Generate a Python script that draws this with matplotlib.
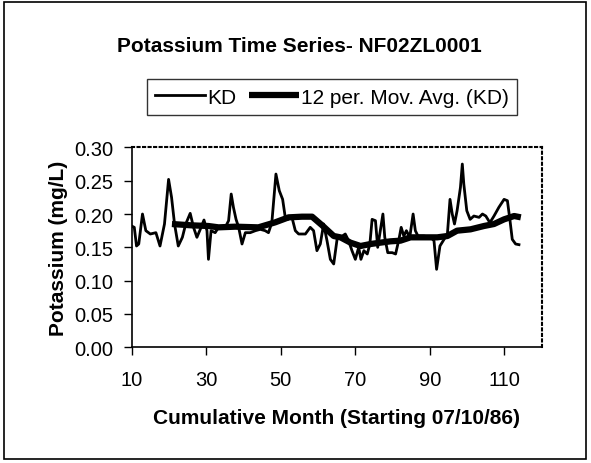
import numpy as np
import matplotlib.pyplot as plt
from matplotlib.patches import Rectangle

plt.rcParams['font.family'] = ['Liberation Sans', 'DejaVu Sans']

# KD samples (cumulative month, mg/L)
kd_month = [10.0, 10.7, 11.3, 11.9, 12.9, 13.8, 15.0, 16.5, 17.6, 18.8,
            19.9, 20.7, 21.5, 22.5, 23.6, 24.5, 25.7, 26.6, 27.5, 28.4,
            29.4, 30.2, 30.6, 31.3, 32.4, 33.3, 35.1, 36.0, 36.7, 37.3,
            38.0, 38.7, 39.6, 40.5, 41.8, 43.2, 44.5, 45.8, 46.7, 47.6,
            48.7, 49.6, 50.5, 51.2, 51.9, 53.0, 53.9, 54.8, 56.6, 57.9,
            58.8, 59.7, 60.6, 61.5, 62.4, 63.3, 64.2, 65.1, 66.0, 67.3,
            68.2, 69.1, 70.0, 70.9, 71.5, 72.3, 73.2, 73.9, 74.5, 75.4,
            76.0, 76.7, 77.4, 77.9, 78.7, 79.9, 80.8, 81.7, 82.3, 83.0,
            83.7, 84.6, 85.5, 86.1, 86.8, 88.4, 90.2, 91.1, 91.8, 92.7,
            93.8, 94.7, 95.4, 96.0, 96.6, 97.3, 98.2, 98.7, 99.1, 99.9,
            100.8, 101.8, 103.2, 104.1, 105.0, 106.1, 107.2, 108.5, 109.9, 110.8,
            111.5, 112.1, 113.0, 113.9]
kd_value = [0.182, 0.180, 0.152, 0.155, 0.200, 0.175, 0.170, 0.172, 0.152, 0.185,
            0.252, 0.225, 0.185, 0.152, 0.165, 0.185, 0.201, 0.180, 0.165, 0.177,
            0.191, 0.175, 0.132, 0.175, 0.172, 0.180, 0.180, 0.190, 0.230, 0.210,
            0.192, 0.180, 0.155, 0.172, 0.172, 0.175, 0.177, 0.175, 0.172, 0.187,
            0.260, 0.235, 0.222, 0.195, 0.192, 0.195, 0.175, 0.170, 0.170, 0.180,
            0.175, 0.145, 0.155, 0.185, 0.160, 0.132, 0.125, 0.162, 0.165, 0.170,
            0.160, 0.145, 0.132, 0.150, 0.132, 0.145, 0.140, 0.155, 0.192, 0.190,
            0.150, 0.175, 0.200, 0.165, 0.142, 0.142, 0.140, 0.162, 0.180, 0.167,
            0.175, 0.165, 0.200, 0.175, 0.167, 0.167, 0.165, 0.160, 0.117, 0.152,
            0.162, 0.170, 0.222, 0.200, 0.185, 0.205, 0.240, 0.275, 0.245, 0.205,
            0.192, 0.197, 0.195, 0.200, 0.197, 0.187, 0.197, 0.210, 0.222, 0.220,
            0.190, 0.162, 0.155, 0.154]

# 12 per. moving average
ma_month = [20.8, 26.1, 30.6, 33.3, 37.8, 44.0, 48.5, 52.1, 55.7, 58.4,
            61.1, 64.2, 66.0, 68.7, 71.4, 74.1, 76.7, 79.4, 82.1, 84.8,
            88.4, 92.0, 94.7, 97.3, 100.9, 104.5, 107.2, 109.9, 112.6, 114.4]
ma_value = [0.185, 0.183, 0.182, 0.180, 0.181, 0.180, 0.1875, 0.195, 0.196, 0.196,
            0.183, 0.167, 0.165, 0.157, 0.152, 0.155, 0.157, 0.159, 0.160, 0.165,
            0.165, 0.165, 0.167, 0.175, 0.177, 0.182, 0.185, 0.192, 0.197, 0.195]

fig = plt.figure(figsize=(5.91, 4.64), dpi=100)
# chart-area frame
fig.patches.append(Rectangle((4 / 591, 4 / 464), 582 / 591, 457 / 464,
                             transform=fig.transFigure, fill=False,
                             edgecolor='black', lw=1.2))

ax = fig.add_axes([0.2228, 0.2494, 0.6938, 0.4308])

ax.plot(kd_month, kd_value, color='black', lw=2, label='KD')
ax.plot(ma_month, ma_value, color='black', lw=4.5, label='12 per. Mov. Avg. (KD)',
        solid_capstyle='butt')

ax.set_xlim(10, 120)
ax.set_ylim(0, 0.30)
ax.set_xticks(np.arange(10, 111, 20))
ax.set_yticks(np.arange(0, 0.301, 0.05))
ax.yaxis.set_major_formatter(plt.FormatStrFormatter('%.2f'))
ax.tick_params(direction='out', length=6, width=1, labelsize=14.5)
ax.tick_params(axis='x', pad=10)
ax.tick_params(axis='y', pad=7)

for s in ('top', 'right'):
    ax.spines[s].set_linestyle(':')
    ax.spines[s].set_linewidth(1.5)
for s in ('left', 'bottom'):
    ax.spines[s].set_linewidth(1.2)

ax.set_xlabel('Cumulative Month (Starting 07/10/86)', fontsize=15,
              fontweight='bold', labelpad=14)
ax.set_ylabel('Potassium (mg/L)', fontsize=15, fontweight='bold', labelpad=5)

fig.text(299 / 591, 1 - 46 / 464, 'Potassium Time Series- NF02ZL0001', ha='center',
         va='center', fontsize=15, fontweight='bold')

leg = fig.legend(loc='center', bbox_to_anchor=(332 / 591, 1 - 98 / 464), ncol=2,
                 fontsize=15, frameon=True, fancybox=False, edgecolor='black',
                 handlelength=2.4, handletextpad=0.1, columnspacing=0.6,
                 borderpad=0.4)
leg.get_frame().set_linewidth(1.0)

fig.savefig('out.png', dpi=100)
